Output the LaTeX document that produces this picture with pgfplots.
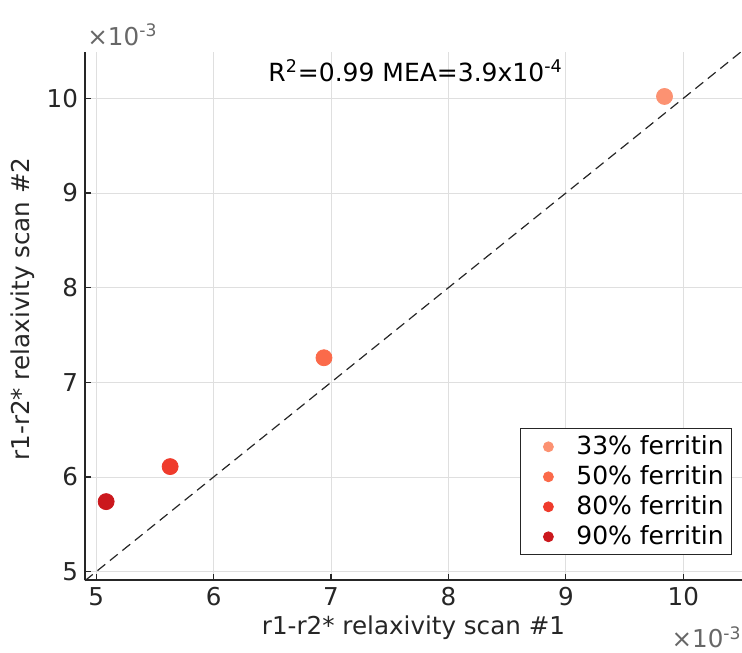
\documentclass[border=0pt]{standalone}
\usepackage{fontspec}
\setmainfont{DejaVu Sans}
\usepackage{pgfplots}
\pgfplotsset{compat=1.18}
\definecolor{fA}{RGB}{252,146,114}
\definecolor{fB}{RGB}{251,106,74}
\definecolor{fC}{RGB}{239,59,44}
\definecolor{fD}{RGB}{203,24,29}
\definecolor{axgray}{RGB}{38,38,38}
\definecolor{gridgray}{RGB}{223,223,223}
\begin{document}
\begin{tikzpicture}
\begin{axis}[
  scale only axis,
  width=328.5pt, height=264pt,
  xmin=4.905, xmax=10.5, ymin=4.912, ymax=10.49,
  axis x line=bottom, axis y line=left,
  axis line style={-, draw=axgray, line width=0.6pt},
  xtick={5,6,7,8,9,10}, ytick={5,6,7,8,9,10},
  tick align=inside, major tick length=3pt,
  tick style={draw=axgray, line width=0.6pt},
  grid=major, grid style={draw=gridgray, line width=0.4pt},
  /pgf/number format/assume math mode=true,
  ticklabel style={font=\fontsize{12.3}{14}\selectfont, text=axgray},
  xlabel={r1-r2* relaxivity scan \#1},
  ylabel={r1-r2* relaxivity scan \#2},
  label style={font=\fontsize{12.3}{14}\selectfont, text=axgray},
  xlabel style={yshift=2pt},
  ylabel style={yshift=-1pt, xshift=3.5pt},
  legend style={at={(0.985,0.047)}, anchor=south east, draw=axgray,
    font=\fontsize{12.5}{15}\selectfont, row sep=0pt,
    inner xsep=2pt, inner ysep=1.5pt},
  legend cell align=left,
  legend image code/.code={\path[draw=none,fill=none] (0pt,0pt) -- (24pt,0pt);\fill[#1] (12pt,0pt) circle (2.5pt);},
  clip=false,
]
\addplot[draw=axgray, dash pattern=on 5pt off 3pt, line width=0.6pt, forget plot] coordinates {(4.905,4.905) (10.5,10.5)};
\addplot[only marks, mark=*, mark size=4pt, color=fA] coordinates {(9.84,10.02)};
\addlegendentry{33\% ferritin}
\addplot[only marks, mark=*, mark size=4pt, color=fB] coordinates {(6.94,7.26)};
\addlegendentry{50\% ferritin}
\addplot[only marks, mark=*, mark size=4pt, color=fC] coordinates {(5.63,6.11)};
\addlegendentry{80\% ferritin}
\addplot[only marks, mark=*, mark size=4pt, color=fD] coordinates {(5.085,5.74)};
\addlegendentry{90\% ferritin}
\node[font=\fontsize{12.5}{14}\selectfont, text=black] at (axis cs:7.72,10.29) {R\textsuperscript{2}=0.99 MEA=3.9x10\textsuperscript{-4}};
\node[anchor=south west, inner sep=0pt, font=\fontsize{12.3}{14}\selectfont, text=axgray!70] at ([yshift=3pt]rel axis cs:0.003,1) {×10\textsuperscript{-3}};
\node[anchor=north east, inner sep=0pt, font=\fontsize{12.3}{14}\selectfont, text=axgray!70] at ([yshift=-23pt]rel axis cs:1,0) {×10\textsuperscript{-3}};
\end{axis}
\pgfresetboundingbox
\path (-42.5pt,-36pt) rectangle (328.5pt,290pt);
\end{tikzpicture}
\end{document}
